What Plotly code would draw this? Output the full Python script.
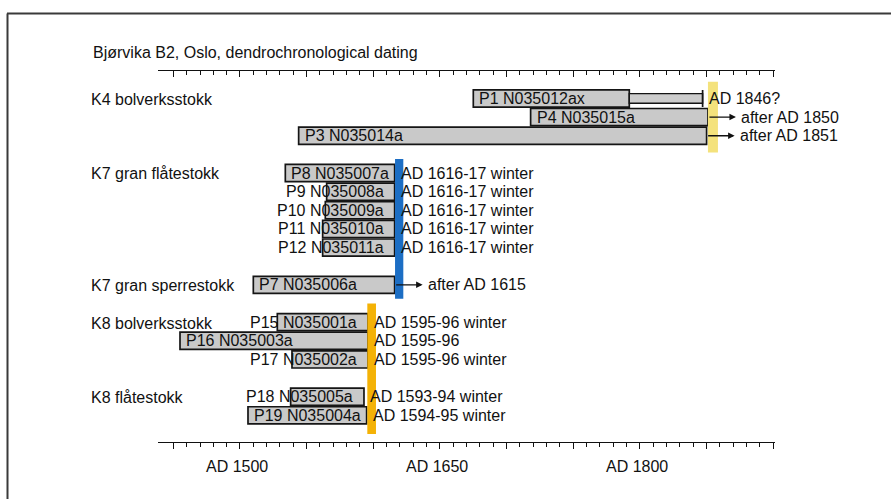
import plotly.graph_objects as go

# ---------------- data ----------------
title_text = "Bjørvika B2, Oslo, dendrochronological dating"
group_names = ["K4 bolverksstokk", "K7 gran flåtestokk", "K7 gran sperrestokk",
               "K8 bolverksstokk", "K8 flåtestokk"]
group_sizes = [3, 5, 1, 3, 2]
sample_ids = ["P1 N035012ax", "P4 N035015a", "P3 N035014a",
              "P8 N035007a", "P9 N035008a", "P10 N035009a", "P11 N035010a", "P12 N035011a",
              "P7 N035006a",
              "P15 N035001a", "P16 N035003a", "P17 N035002a",
              "P18 N035005a", "P19 N035004a"]
start_years = [1675, 1718, 1544,
               1534, 1565, 1564, 1562, 1562,
               1510,
               1528, 1455, 1539,
               1538, 1506]
end_years = [1792, 1851, 1850,
             1616, 1616, 1616, 1616, 1616,
             1616,
             1596, 1596, 1596,
             1593, 1595]
date_labels = ["AD 1846?", "after AD 1850", "after AD 1851",
               "AD 1616-17 winter", "AD 1616-17 winter", "AD 1616-17 winter",
               "AD 1616-17 winter", "AD 1616-17 winter",
               "after AD 1615",
               "AD 1595-96 winter", "AD 1595-96", "AD 1595-96 winter",
               "AD 1593-94 winter", "AD 1594-95 winter"]
open_ended = [False, True, True,
              False, False, False, False, False,
              True,
              False, False, False,
              False, False]
# estimated extension (missing rings) of P1
ext_sample = "P1 N035012ax"
ext_start = 1792
ext_end = 1847
# felling-date bands per structure
band_groups = [[0], [1, 2], [3, 4]]
band_starts = [1851, 1616.3, 1595.5]
band_ends = [1858.5, 1622.5, 1602]
band_colors = ["#f4e27c", "#1c6ec4", "#f4b206"]
# axis
axis_range = [1438.5, 1901.3]
major_step = 50
minor_step = 10
tick_years = [1500, 1650, 1800]
tick_labels = ["AD 1500", "AD 1650", "AD 1800"]

# ---------------- layout helpers ----------------
W, H = 891, 499
ML, MR, MT, MB = 158, 116, 69, 57
plot_w = W - ML - MR
plot_h = H - MT - MB
ppy = plot_w / (axis_range[1] - axis_range[0])
FONT = "Liberation Sans, Arial, sans-serif"
FS = 16
TXT = "#111111"

# row positions from group structure (one blank row between groups)
rows, group_first_row, r = [], [], 0
for gi, n in enumerate(group_sizes):
    group_first_row.append(r)
    for k in range(n):
        rows.append(r)
        r += 1
    r += 1
last_row = rows[-1]
row_of = dict(zip(sample_ids, rows))

def px_y(py):  # paper y from pixel y
    return (H - MB - py) / plot_h

def px_x(px):  # paper x from pixel x
    return (px - ML) / plot_w

fig = go.Figure()

lengths = [e - s for s, e in zip(start_years, end_years)]
fig.add_trace(go.Bar(
    y=rows, x=lengths, base=start_years, orientation="h", width=0.92,
    marker=dict(color="#c9c9c9", line=dict(color="#151515", width=1.7)),
    showlegend=False))
fig.add_trace(go.Bar(
    y=[row_of[ext_sample]], x=[ext_end - ext_start], base=[ext_start], orientation="h",
    width=0.52,
    marker=dict(color="#cdcdcd", line=dict(color="#151515", width=1.4)),
    showlegend=False))
# white helper line in a thin strip at the top, carrying the top time axis
fig.add_trace(go.Scatter(x=[axis_range[0] + 1, axis_range[1] - 1], y=[0, 0],
                         xaxis="x2", yaxis="y2", mode="lines",
                         line=dict(width=1, color="white"), showlegend=False))

shapes = []
# end mark of P1 extension
shapes.append(dict(type="line", xref="x", yref="y", x0=ext_end, x1=ext_end,
                   y0=row_of[ext_sample] - 0.46, y1=row_of[ext_sample] + 0.46,
                   line=dict(color="#151515", width=1.7)))
# bands
band_pad = [0.9, 0.75, 1.0]
for bi, grp in enumerate(band_groups):
    r0 = group_first_row[grp[0]]
    r1 = group_first_row[grp[-1]] + group_sizes[grp[-1]] - 1
    shapes.append(dict(type="rect", xref="x", yref="y", x0=band_starts[bi], x1=band_ends[bi],
                       y0=r0 - band_pad[bi], y1=r1 + band_pad[bi],
                       fillcolor=band_colors[bi], line=dict(width=0), layer="above"))
# outer frame (top and left visible)
shapes.append(dict(type="line", xref="paper", yref="paper", x0=px_x(7), x1=px_x(905),
                   y0=px_y(13.5), y1=px_y(13.5), line=dict(color="#3a3a3a", width=2)))
shapes.append(dict(type="line", xref="paper", yref="paper", x0=px_x(7.5), x1=px_x(7.5),
                   y0=px_y(13.5), y1=px_y(520), line=dict(color="#3a3a3a", width=2)))

ann = []
# title
ann.append(dict(text=title_text, xref="paper", yref="paper", x=px_x(91), y=px_y(53),
                xanchor="left", yanchor="middle", showarrow=False,
                font=dict(family=FONT, size=FS, color=TXT)))
# group labels
for gi, name in enumerate(group_names):
    ann.append(dict(text=name, xref="paper", yref="y", x=px_x(89), y=group_first_row[gi] + 0.05,
                    xanchor="left", yanchor="middle", showarrow=False,
                    font=dict(family=FONT, size=FS, color=TXT)))
# sample labels
for sid, rr, s, e in zip(sample_ids, rows, start_years, end_years):
    est_w = len(sid) * 0.56 * FS
    if (e - s) * ppy > est_w + 8:
        ann.append(dict(text=sid, x=s, y=rr, xref="x", yref="y", xanchor="left", xshift=4,
                        yanchor="middle", showarrow=False,
                        font=dict(family=FONT, size=FS, color=TXT)))
    else:
        ann.append(dict(text=sid, x=e, y=rr, xref="x", yref="y", xanchor="right", xshift=-9,
                        yanchor="middle", showarrow=False,
                        font=dict(family=FONT, size=FS, color=TXT)))
# dates
arrow_px = 28
for sid, rr, e, lab, op in zip(sample_ids, rows, end_years, date_labels, open_ended):
    xe = ext_end if sid == ext_sample else e
    if op:
        ann.append(dict(text="", x=xe + arrow_px / ppy, y=rr, ax=xe, ay=rr, axref="x", ayref="y",
                        xref="x", yref="y", showarrow=True, arrowhead=2, arrowsize=1,
                        arrowwidth=1.3, arrowcolor="#111"))
        ann.append(dict(text=lab, x=xe, y=rr, xref="x", yref="y", xanchor="left",
                        xshift=arrow_px + 3, yanchor="middle", showarrow=False,
                        font=dict(family=FONT, size=FS, color=TXT)))
    else:
        ann.append(dict(text=lab, x=xe, y=rr, xref="x", yref="y", xanchor="left",
                        xshift=4, yanchor="middle", showarrow=False,
                        font=dict(family=FONT, size=FS, color=TXT)))
# axis labels
for ty, tl in zip(tick_years, tick_labels):
    ann.append(dict(text=tl, x=ty, y=0, xref="x", yref="paper", xanchor="center",
                    yanchor="middle", yshift=-24, xshift=-3, showarrow=False,
                    font=dict(family=FONT, size=FS, color=TXT)))

first_major = 1450
major_vals = list(range(first_major, int(axis_range[1]) + 1, major_step))
minor_vals = [v for v in range(first_major, int(axis_range[1]) + 1, minor_step)
              if v not in major_vals]


def axis_cfg(extra):
    d = dict(range=axis_range, showline=True, linecolor="#111", linewidth=1.3,
             tickmode="array", tickvals=major_vals, ticks="outside", ticklen=6, tickwidth=1.2,
             tickcolor="#111", showgrid=False, zeroline=False, automargin=False,
             minor=dict(tickmode="array", tickvals=minor_vals, ticks="outside", ticklen=3.5,
                        tickwidth=1, tickcolor="#111", showgrid=False))
    d.update(extra)
    return d


fig.update_layout(
    width=W, height=H, margin=dict(l=ML, r=MR, t=MT, b=MB),
    paper_bgcolor="white", plot_bgcolor="white",
    xaxis=axis_cfg(dict(anchor="y", showticklabels=False)),
    xaxis2=axis_cfg(dict(anchor="y2", showticklabels=True,
                         tickfont=dict(size=8, color="rgba(0,0,0,0)"))),
    yaxis=dict(domain=[0, 0.996], range=[last_row + 1.5 - 0.07, -1.5], showline=False,
               showticklabels=False, ticks="", showgrid=False, zeroline=False),
    yaxis2=dict(domain=[0.997, 1], range=[-1, 1], showline=False, showticklabels=False,
                ticks="", showgrid=False, zeroline=False),
    shapes=shapes, annotations=ann, barmode="overlay", showlegend=False,
)

fig.write_html("out.html", include_plotlyjs=True, config={"displayModeBar": False},
               post_script="document.body.style.margin='0';")
